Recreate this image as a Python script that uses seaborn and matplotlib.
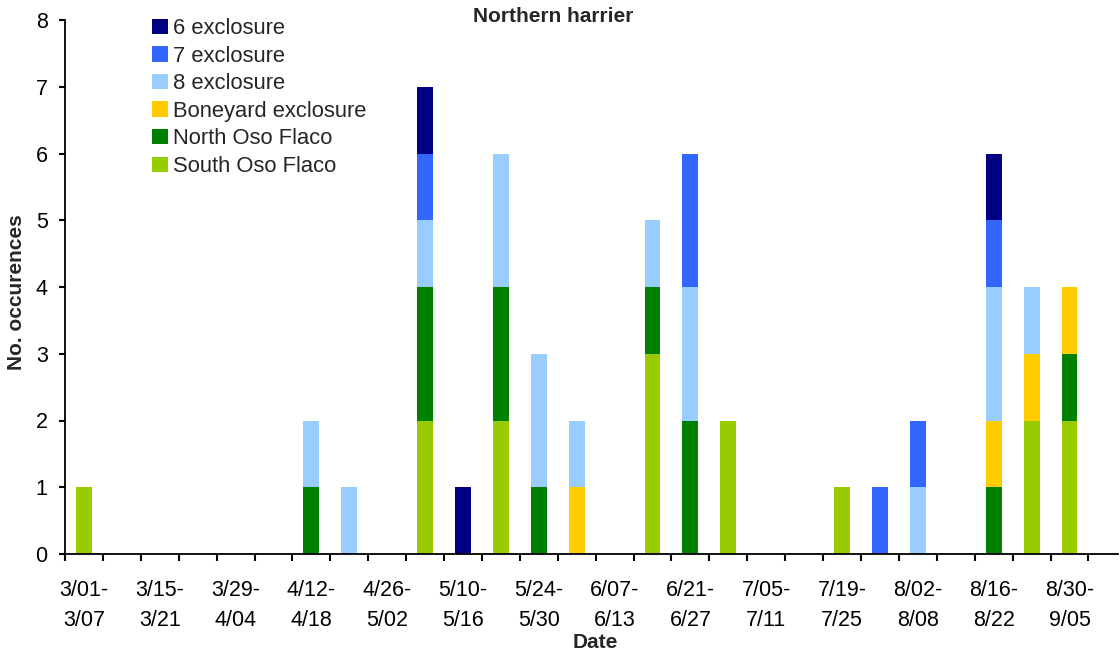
import numpy as np
import pandas as pd
import matplotlib
matplotlib.use("Agg")
import matplotlib.pyplot as plt
from matplotlib.patches import Patch
import seaborn as sns

week_start = ["3/01", "3/08", "3/15", "3/22", "3/29", "4/05", "4/12", "4/19", "4/26",
              "5/03", "5/10", "5/17", "5/24", "5/31", "6/07", "6/14", "6/21", "6/28",
              "7/05", "7/12", "7/19", "7/26", "8/02", "8/09", "8/16", "8/23", "8/30"]
week_end = ["3/07", "3/14", "3/21", "3/28", "4/04", "4/11", "4/18", "4/25", "5/02",
            "5/09", "5/16", "5/23", "5/30", "6/06", "6/13", "6/20", "6/27", "7/04",
            "7/11", "7/18", "7/25", "8/01", "8/08", "8/15", "8/22", "8/29", "9/05"]

#                 0  1  2  3  4  5  6  7  8  9 10 11 12 13 14 15 16 17 18 19 20 21 22 23 24 25 26
south_oso_flaco = [1, 0, 0, 0, 0, 0, 0, 0, 0, 2, 0, 2, 0, 0, 0, 3, 0, 2, 0, 0, 1, 0, 0, 0, 0, 2, 2]
north_oso_flaco = [0, 0, 0, 0, 0, 0, 1, 0, 0, 2, 0, 2, 1, 0, 0, 1, 2, 0, 0, 0, 0, 0, 0, 0, 1, 0, 1]
boneyard_excl   = [0, 0, 0, 0, 0, 0, 0, 0, 0, 0, 0, 0, 0, 1, 0, 0, 0, 0, 0, 0, 0, 0, 0, 0, 1, 1, 1]
excl_8          = [0, 0, 0, 0, 0, 0, 1, 1, 0, 1, 0, 2, 2, 1, 0, 1, 2, 0, 0, 0, 0, 0, 1, 0, 2, 1, 0]
excl_7          = [0, 0, 0, 0, 0, 0, 0, 0, 0, 1, 0, 0, 0, 0, 0, 0, 2, 0, 0, 0, 0, 1, 1, 0, 1, 0, 0]
excl_6          = [0, 0, 0, 0, 0, 0, 0, 0, 0, 1, 1, 0, 0, 0, 0, 0, 0, 0, 0, 0, 0, 0, 0, 0, 1, 0, 0]

series_names = ["South Oso Flaco", "North Oso Flaco", "Boneyard exclosure",
                "8 exclosure", "7 exclosure", "6 exclosure"]
series_values = [south_oso_flaco, north_oso_flaco, boneyard_excl, excl_8, excl_7, excl_6]
series_colors = ["#99CC00", "#008000", "#FFCC00", "#99CCFF", "#3366FF", "#000080"]

sns.set_theme(style="white")
plt.rcParams["font.family"] = ["Liberation Sans", "DejaVu Sans"]
FS = 15.5
FS_LEG = 15.8

weeks = [f"{s}-{e}" for s, e in zip(week_start, week_end)]
df = pd.DataFrame({"week": weeks})
cum = np.cumsum(np.array(series_values, dtype=float), axis=0)
for name, c in zip(series_names, cum):
    df[name] = c

fig = plt.figure(figsize=(11.2, 6.57), dpi=100)
ax = fig.add_axes([65 / 1120, 103 / 657, 1053 / 1120, 534 / 657])

# draw cumulative totals from top layer down so each layer overlays the previous
for name, color in reversed(list(zip(series_names, series_colors))):
    sns.barplot(data=df, x="week", y=name, order=weeks, color=color, saturation=1,
                width=0.42, errorbar=None, ax=ax, linewidth=0)

ax.set_ylim(0, 8)
ax.set_yticks(range(0, 9))
ax.set_xlim(-0.5, 27.28)
ax.set_xticks(range(len(weeks)))
ax.set_xticklabels([f"{s}-\n{e}" if i % 2 == 0 else "" for i, (s, e) in
                    enumerate(zip(week_start, week_end))], fontsize=FS, linespacing=1.52)
ax.set_xticks(np.arange(-0.5, len(weeks), 1.0), minor=True)
ax.tick_params(axis="x", which="major", length=0, pad=19, labelsize=FS, colors="black")
ax.tick_params(axis="x", which="minor", length=5, width=1.5, direction="out",
               bottom=True, color="black")
ax.tick_params(axis="y", which="major", length=4.5, width=1.5, direction="out",
               left=True, pad=8, labelsize=FS, colors="black")
ax.set_xlabel("")
ax.set_ylabel("")
for side in ["top", "right"]:
    ax.spines[side].set_visible(False)
for side in ["left", "bottom"]:
    ax.spines[side].set_color("black")
    ax.spines[side].set_linewidth(1.3)

fig.text(553 / 1120, 1 - 17 / 657, "Northern harrier", ha="center", va="center",
         fontsize=15, fontweight="bold")
fig.text(595 / 1120, 1 - 643 / 657, "Date", ha="center", va="center",
         fontsize=15, fontweight="bold")
fig.text(17 / 1120, 1 - 292 / 657, "No. occurences", ha="center", va="center",
         rotation=90, fontsize=15, fontweight="bold")

handles = [Patch(facecolor=c, edgecolor="none", label=n)
           for n, c in reversed(list(zip(series_names, series_colors)))]
fig.legend(handles=handles, loc="upper left", bbox_to_anchor=(152 / 1120, 1 - 18 / 657),
           frameon=False, fontsize=FS_LEG, borderpad=0, labelspacing=0.3,
           handlelength=0.75, handleheight=0.7, handletextpad=0.2, borderaxespad=0)

fig.savefig("out.png", dpi=100)
